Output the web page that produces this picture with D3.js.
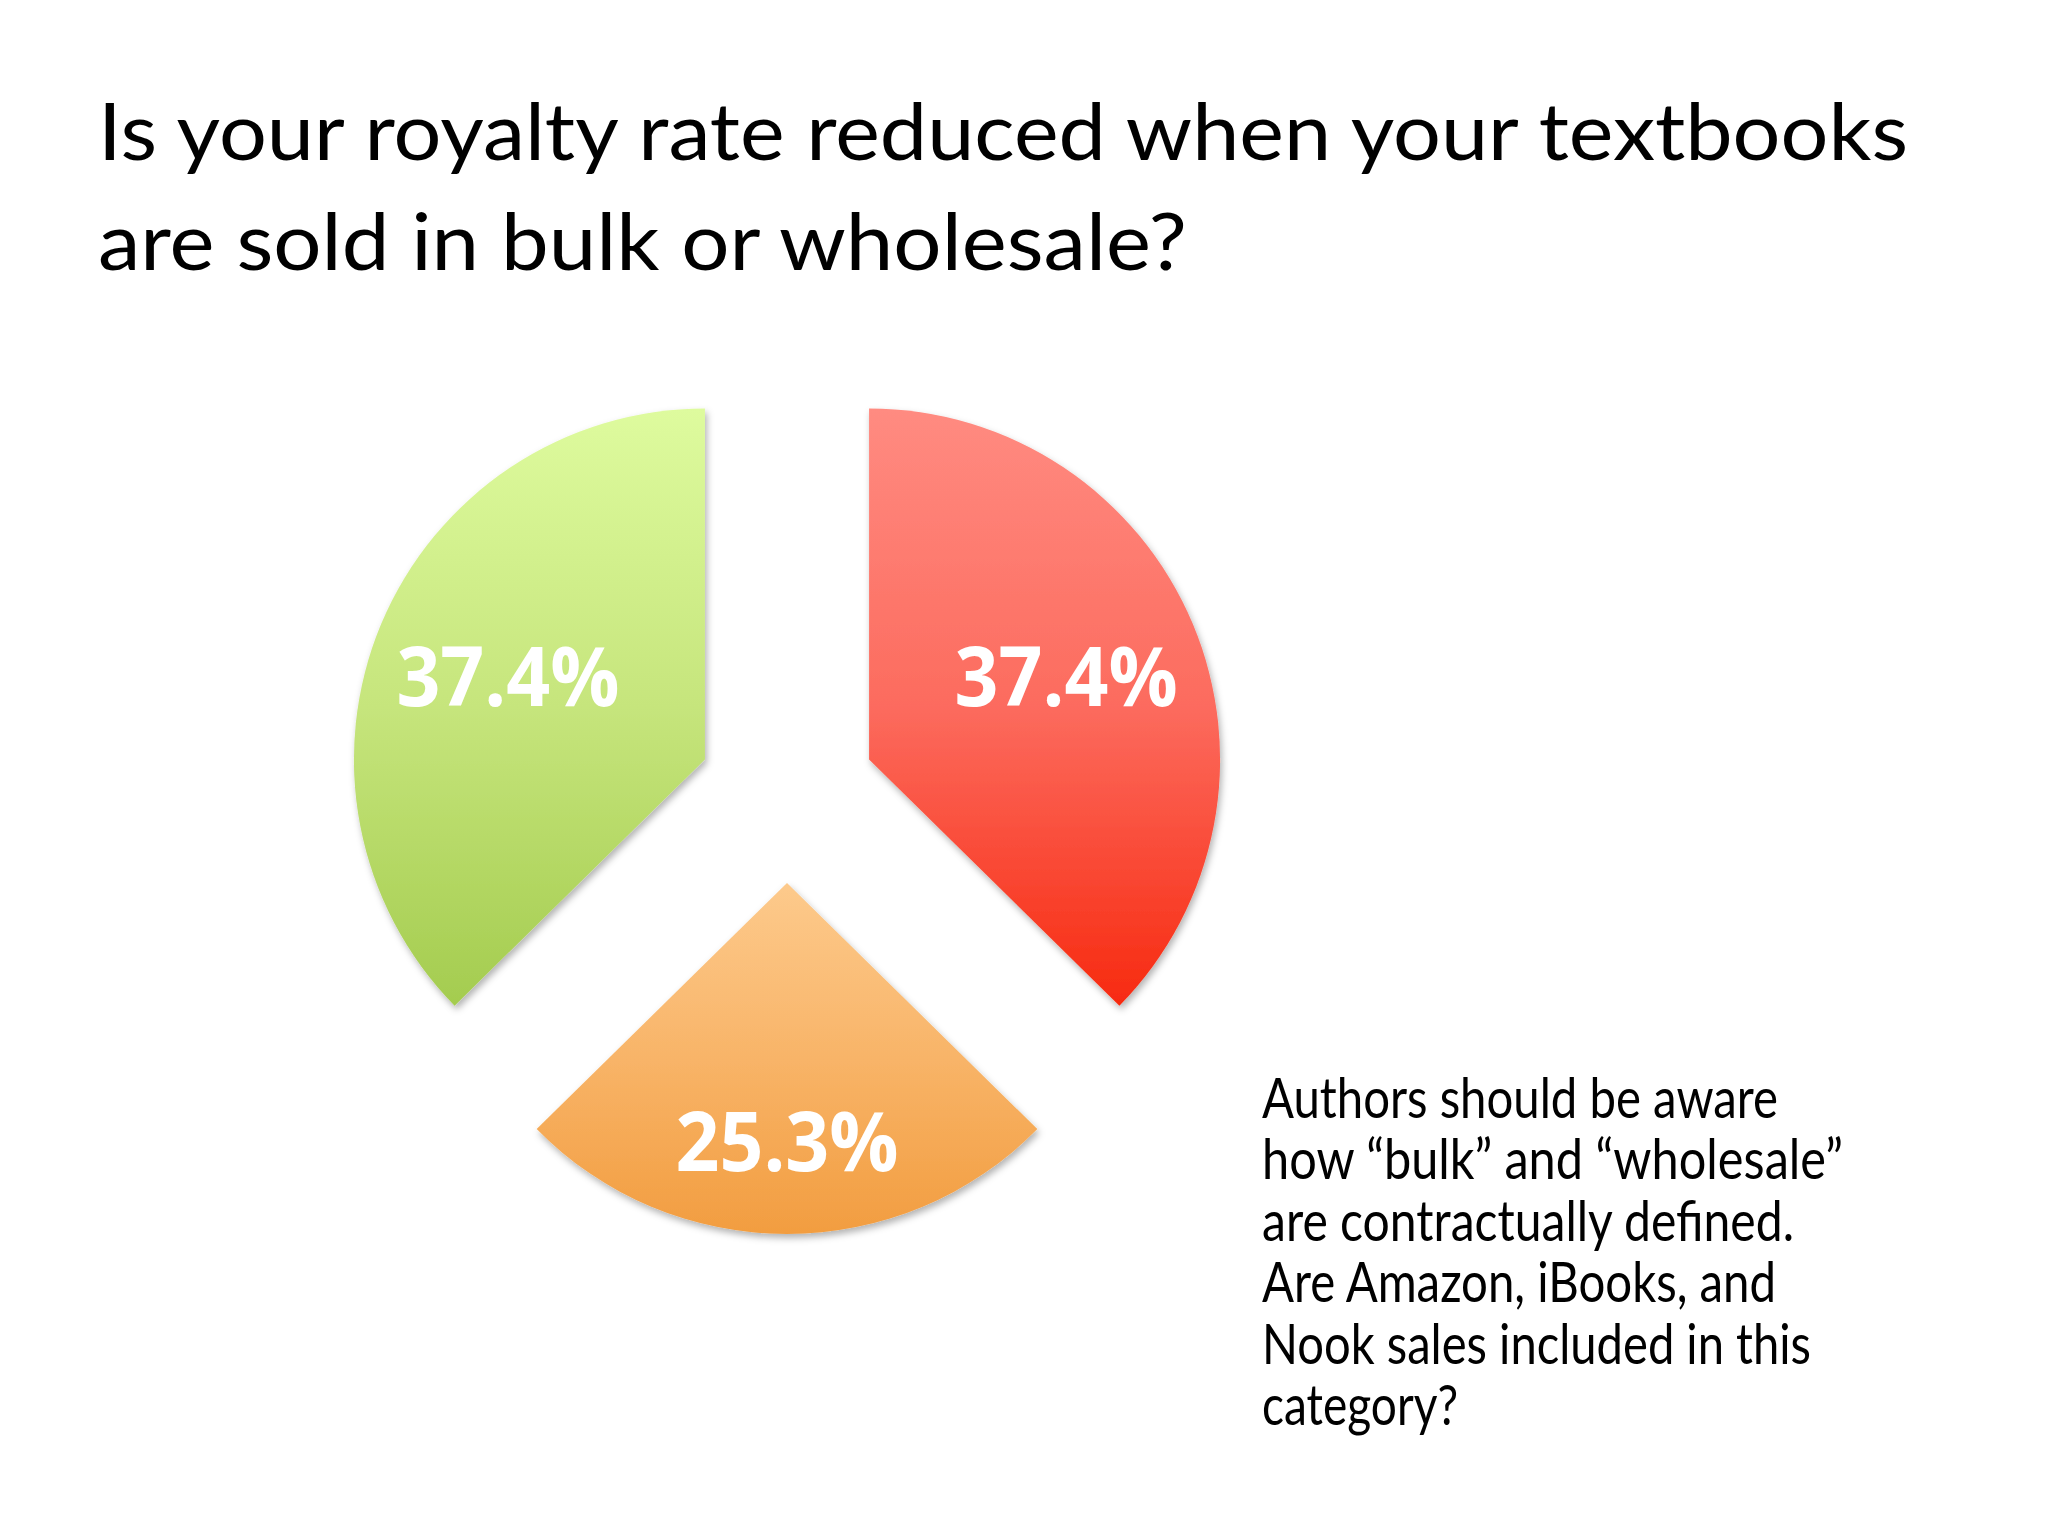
<!DOCTYPE html>
<html>
<head>
<meta charset="utf-8">
<script src="https://cdn.jsdelivr.net/npm/d3@7"></script>
<style>
  html, body { margin: 0; padding: 0; background: #fff; }
  svg { display: block; }
</style>
</head>
<body>
<div id="chart"></div>
<script>
// data
var categories = ["Response A", "Response B", "Response C"];
var values = [37.4, 25.3, 37.4];
var topColors = ["#ff8b81", "#fdca8c", "#defb9e"];
var midColors = ["#fc6b5e", "#f8b468", "#c6e57c"];
var bottomColors = ["#f72a10", "#f29d40", "#a4cc4f"];

var titleLines = ["Is your royalty rate reduced when your textbooks",
                  "are sold in bulk or wholesale?"];
var noteLines = ["Authors should be aware",
                 "how \u201cbulk\u201d and \u201cwholesale\u201d",
                 "are contractually defined.",
                 "Are Amazon, iBooks, and",
                 "Nook sales included in this",
                 "category?"];

// line widths as set on the slide (layout only)
var titleWidths = [1810, 1089];
var noteWidths = [516, 581, 532, 514, 549, 196];

var W = 2048, H = 1536;
var font = "Lato, 'Open Sans', sans-serif";

var svg = d3.select('#chart').append('svg')
    .attr('width', W)
    .attr('height', H);

var defs = svg.append('defs');

// soft shadow under the slices
var shadow = defs.append('filter')
    .attr('id', 'shadow')
    .attr('x', '-10%').attr('y', '-10%')
    .attr('width', '120%').attr('height', '120%');
shadow.append('feDropShadow')
    .attr('dx', 2).attr('dy', 4)
    .attr('stdDeviation', 3.5)
    .attr('flood-color', '#000')
    .attr('flood-opacity', 0.3);

categories.forEach(function(c, i) {
  var g = defs.append('linearGradient')
      .attr('id', 'grad' + i)
      .attr('x1', 0).attr('y1', 0)
      .attr('x2', 0).attr('y2', 1);
  g.append('stop').attr('offset', '0%').attr('stop-color', topColors[i]);
  g.append('stop').attr('offset', '50%').attr('stop-color', midColors[i]);
  g.append('stop').attr('offset', '100%').attr('stop-color', bottomColors[i]);
});

// stretch/squeeze each line to the width it has on the slide
function fitLines(sel, widths) {
  sel.each(function(d, i) {
    d3.select(this)
      .attr('textLength', widths[i])
      .attr('lengthAdjust', 'spacingAndGlyphs');
  });
}

// title
var title = svg.selectAll('text.title')
  .data(titleLines)
  .enter()
  .append('text')
  .attr('class', 'title')
  .attr('x', 98)
  .attr('y', function(d, i) { return 160 + i * 110; })
  .style('font-family', font)
  .style('font-size', '80px')
  .style('fill', '#000')
  .text(function(d) { return d; });
fitLines(title, titleWidths);

// pie
var cx = 787, cy = 794, r = 351, explode = 89;

var pie = d3.pie()
    .sort(null)
    .value(function(d) { return d; });

var arc = d3.arc()
    .innerRadius(0)
    .outerRadius(r);

var slices = pie(values);

function mid(d) { return (d.startAngle + d.endAngle) / 2; }

var sliceG = svg.selectAll('g.slice')
  .data(slices)
  .enter()
  .append('g')
  .attr('class', 'slice')
  .attr('transform', function(d) {
    var a = mid(d);
    return 'translate(' + (cx + explode * Math.sin(a)) + ',' + (cy - explode * Math.cos(a)) + ')';
  });

sliceG.append('path')
  .attr('d', arc)
  .style('fill', function(d, i) { return 'url(#grad' + i + ')'; })
  .attr('filter', 'url(#shadow)');

var fmt = d3.format('.1f');
var labelSize = 82;

var labels = sliceG.append('text')
  .attr('text-anchor', 'middle')
  .attr('x', function(d) {
    var half = (d.endAngle - d.startAngle) / 2;
    return r * (1 - half / 3) * Math.sin(mid(d));
  })
  .attr('y', function(d) {
    var half = (d.endAngle - d.startAngle) / 2;
    return -r * (1 - half / 3) * Math.cos(mid(d)) + labelSize * 0.36;
  })
  .style('font-family', "'Open Sans', Lato, sans-serif")
  .style('font-weight', 'bold')
  .style('font-size', labelSize + 'px')
  .style('fill', '#fff')
  .text(function(d) { return fmt(d.data) + '%'; });
labels.attr('textLength', 223).attr('lengthAdjust', 'spacingAndGlyphs');

// note on the right
var note = svg.selectAll('text.note')
  .data(noteLines)
  .enter()
  .append('text')
  .attr('class', 'note')
  .attr('x', 1262)
  .attr('y', function(d, i) { return 1118 + i * 61.4; })
  .style('font-family', font)
  .style('font-size', '56px')
  .style('fill', '#000')
  .text(function(d) { return d; });
fitLines(note, noteWidths);
</script>
</body>
</html>
